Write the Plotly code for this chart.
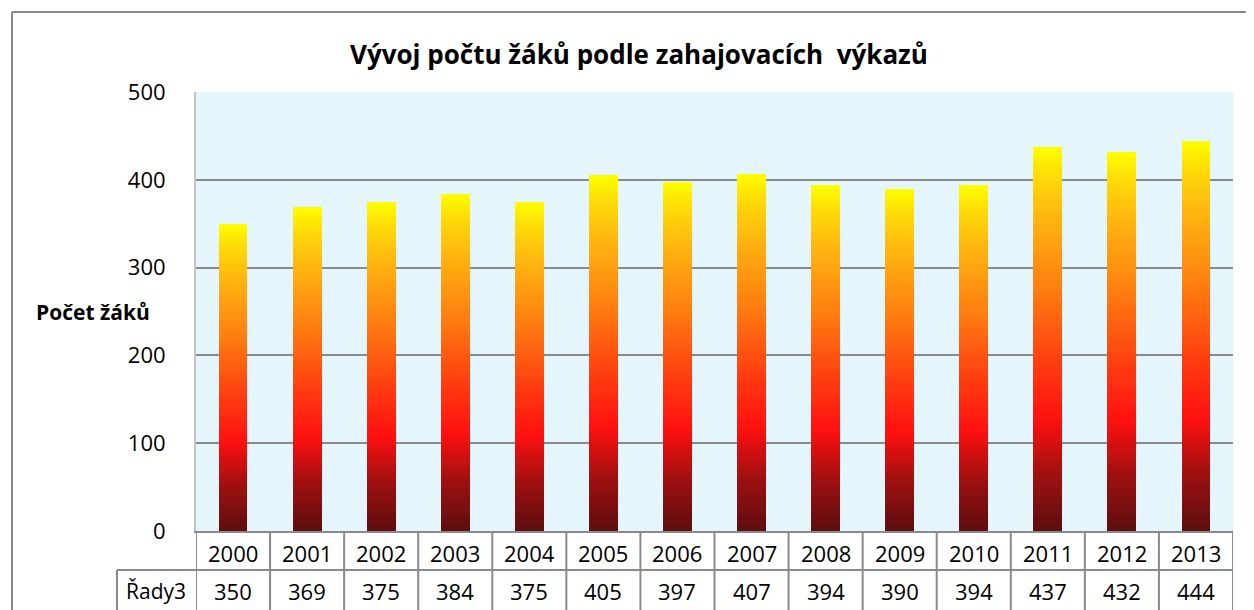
import plotly.graph_objects as go

# ---- data ----
years = ["2000", "2001", "2002", "2003", "2004", "2005", "2006",
         "2007", "2008", "2009", "2010", "2011", "2012", "2013"]
pocet = [350, 369, 375, 384, 375, 405, 397, 407, 394, 390, 394, 437, 432, 444]
series_name = "Řady3"
title_text = "Vývoj počtu žáků podle zahajovacích  výkazů"
y_title = "Počet žáků"
y_ticks = [0, 100, 200, 300, 400, 500]

# ---- styling ----
FONT = "Open Sans"
GRID = "#8a8a8a"
BG = "#E4F6FC"
grad_stops = [
    (0.00, (92, 14, 16)),
    (0.15, (160, 16, 16)),
    (0.29, (255, 16, 16)),
    (0.45, (255, 64, 16)),
    (0.62, (255, 122, 16)),
    (0.80, (255, 176, 16)),
    (0.92, (255, 216, 8)),
    (1.00, (255, 255, 0)),
]


def grad_color(t):
    for (t0, c0), (t1, c1) in zip(grad_stops[:-1], grad_stops[1:]):
        if t0 <= t <= t1:
            f = (t - t0) / (t1 - t0)
            c = [round(a + (b - a) * f) for a, b in zip(c0, c1)]
            return "rgb(%d,%d,%d)" % tuple(c)
    return "rgb(255,255,0)"


N = 70  # number of gradient slices per bar
fig = go.Figure()
for i in range(N):
    fig.add_trace(go.Bar(
        x=years,
        y=[v / N for v in pocet],
        marker=dict(color=grad_color((i + 0.5) / N), line=dict(width=0)),
        showlegend=False,
        hoverinfo="skip",
    ))

# page has an 8px body margin; work in page pixels and convert
OFF = 8
W, H = 1254 - OFF, 610 - OFF
PL, PR, PT, PB = 196, 1233, 92, 531   # plot area in page pixels
L, T = PL - OFF, PT - OFF
R = W - (PR - OFF)
B = H - (PB - OFF)
pw, ph = PR - PL, PB - PT


def px_x(x):
    return (x - PL) / pw


def px_y(y):
    return (PB - y) / ph


shapes = []
# outer chart frame (left + top edges)
shapes.append(dict(type="line", xref="paper", yref="paper",
                   x0=px_x(12), x1=px_x(12), y0=px_y(12), y1=px_y(640),
                   line=dict(color="#888888", width=2)))
shapes.append(dict(type="line", xref="paper", yref="paper",
                   x0=px_x(12), x1=px_x(1300), y0=px_y(12), y1=px_y(12),
                   line=dict(color="#888888", width=2)))
# data table: vertical lines at category boundaries
for k in range(len(years) + 1):
    shapes.append(dict(type="line", xref="x", yref="paper",
                       x0=k - 0.5, x1=k - 0.5, y0=0, y1=px_y(640),
                       line=dict(color=GRID, width=2)))
# row separator
shapes.append(dict(type="line", xref="paper", yref="paper",
                   x0=px_x(117), x1=1.0, y0=px_y(570), y1=px_y(570),
                   line=dict(color=GRID, width=2)))
# series name cell left border
shapes.append(dict(type="line", xref="paper", yref="paper",
                   x0=px_x(117), x1=px_x(117), y0=px_y(570), y1=px_y(640),
                   line=dict(color=GRID, width=2)))

annotations = []
for i, (yr, v) in enumerate(zip(years, pocet)):
    annotations.append(dict(x=i, y=px_y(553), xref="x", yref="paper",
                            xanchor="center", yanchor="middle",
                            text=yr, showarrow=False,
                            font=dict(family=FONT, size=22, color="#000000")))
    annotations.append(dict(x=i, y=px_y(591), xref="x", yref="paper",
                            xanchor="center", yanchor="middle",
                            text=str(v), showarrow=False,
                            font=dict(family=FONT, size=22, color="#000000")))
annotations.append(dict(x=px_x(156), y=px_y(591), xref="paper", yref="paper",
                        xanchor="center", yanchor="middle",
                        text=series_name, showarrow=False,
                        font=dict(family=FONT, size=21, color="#000000")))
annotations.append(dict(x=px_x(639), y=px_y(54), xref="paper", yref="paper",
                        xanchor="center", yanchor="middle",
                        text="<b>" + title_text + "</b>", showarrow=False,
                        font=dict(family=FONT, size=26, color="#000000")))
annotations.append(dict(x=px_x(34), y=px_y(312), xref="paper", yref="paper",
                        xanchor="left", yanchor="middle",
                        text="<b>" + y_title + "</b>",
                        showarrow=False,
                        font=dict(family=FONT, size=21, color="#000000")))

fig.update_layout(
    width=W, height=H,
    margin=dict(l=L, r=R, t=T, b=B, pad=0),
    barmode="stack",
    bargap=0.61,
    paper_bgcolor="#ffffff",
    plot_bgcolor=BG,
    font=dict(family=FONT, size=22, color="#000000"),
    shapes=shapes,
    annotations=annotations,
    xaxis=dict(type="category", showticklabels=False, ticks="",
               showgrid=False, showline=True, linecolor=GRID, linewidth=2,
               range=[-0.5, len(years) - 0.5], zeroline=False),
    yaxis=dict(range=[0, 500], tickvals=y_ticks, showgrid=True,
               gridcolor=GRID, gridwidth=2, zeroline=False,
               showline=True, linecolor="#c4c4c4", linewidth=2,
               ticks="", ticklabelstandoff=24,
               tickfont=dict(family=FONT, size=22, color="#000000")),
)

fig.write_html("out.html")
